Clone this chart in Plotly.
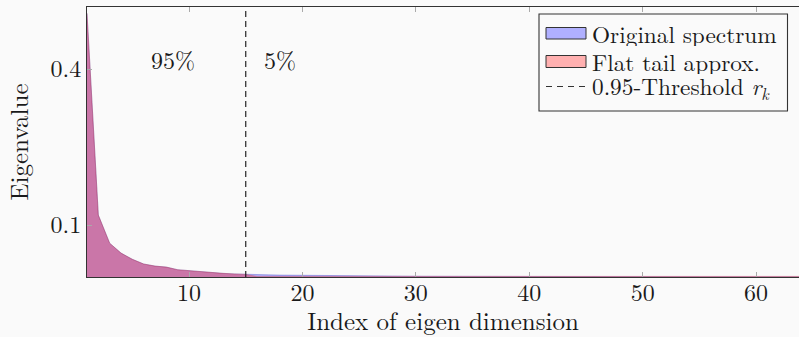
import plotly.graph_objects as go

# ---------------- data ----------------
dims = list(range(1, 65))
original_spectrum = [
    0.507, 0.119, 0.065, 0.046, 0.034, 0.025, 0.021, 0.019, 0.014, 0.012,
    0.010, 0.0085, 0.007, 0.006, 0.005,
    0.0045, 0.0041, 0.0037, 0.0034, 0.0031, 0.0028, 0.0026, 0.0024, 0.0022, 0.0020,
    0.0019, 0.0018, 0.0017, 0.0016, 0.0015, 0.0014, 0.0013, 0.0013, 0.0012, 0.0012,
    0.0011, 0.0011, 0.0010, 0.0010, 0.0009, 0.0009, 0.0009, 0.0008, 0.0008, 0.0008,
    0.0007, 0.0007, 0.0007, 0.0007, 0.0006, 0.0006, 0.0006, 0.0006, 0.0005, 0.0005,
    0.0005, 0.0005, 0.0005, 0.0004, 0.0004, 0.0004, 0.0004, 0.0004, 0.0003,
]
threshold_rk = 15
flat_tail_value = 0.0012
flat_tail = original_spectrum[:threshold_rk] + [flat_tail_value] * (len(dims) - threshold_rk)

x_ticks = [10, 20, 30, 40, 50, 60]
y_ticks = [0.1, 0.4]
y_tick_labels = ["0.1", "0.4"]
region_labels = ["95%", "5%"]
region_label_x = [8.56, 18.05]
region_label_y = 0.419
legend_labels = ["Original spectrum", "Flat tail approx.", "0.95-Threshold <i>r<sub>k</sub></i>"]

# ---------------- style ----------------
W, H = 799, 337
ML, MR, MT, MB = 87, 0, 7, 60
PW, PH = W - ML - MR, H - MT - MB
BG = "#fafafa"
FONT = "Latin Modern Roman"
TXT = "#1a1a1a"
FS = 24
FS_TITLE = 25
FS_LEG = 23.3
BLUE_FILL = "rgba(0,0,255,0.29)"
RED_FILL = "rgba(255,0,0,0.33)"

def px(xp):
    return (xp - ML) / PW

def py(yp):
    return (H - MB - yp) / PH

fig = go.Figure()
fig.add_trace(go.Scatter(x=dims, y=original_spectrum, mode="lines", fill="tozeroy",
                         fillcolor=BLUE_FILL, line=dict(width=0.6, color="rgba(60,60,200,0.6)"),
                         showlegend=False, hoverinfo="skip"))
fig.add_trace(go.Scatter(x=dims, y=flat_tail, mode="lines", fill="tozeroy",
                         fillcolor=RED_FILL, line=dict(width=0.6, color="rgba(200,60,60,0.5)"),
                         showlegend=False, hoverinfo="skip"))

shapes = []
shapes.append(dict(type="line", xref="x", yref="paper", x0=threshold_rk, x1=threshold_rk,
                   y0=0, y1=1, line=dict(color="#111111", width=1.1, dash="6px,4px"), layer="above"))
shapes.append(dict(type="rect", xref="paper", yref="paper", x0=px(539), x1=px(787.5),
                   y0=py(111), y1=py(14), line=dict(color="#333333", width=1.1),
                   fillcolor=BG, layer="above"))
shapes.append(dict(type="rect", xref="paper", yref="paper", x0=px(546), x1=px(586),
                   y0=py(39), y1=py(27.5), line=dict(color="#333333", width=1),
                   fillcolor="#b0b0ff", layer="above"))
shapes.append(dict(type="rect", xref="paper", yref="paper", x0=px(546), x1=px(586),
                   y0=py(67.5), y1=py(55.5), line=dict(color="#333333", width=1),
                   fillcolor="#ffb0b0", layer="above"))
shapes.append(dict(type="line", xref="paper", yref="paper", x0=px(546), x1=px(585),
                   y0=py(86.5), y1=py(86.5), line=dict(color="#333333", width=1.1, dash="6px,5px"),
                   layer="above"))
fig.update_layout(shapes=shapes)

annotations = []
for t, xv in zip(region_labels, region_label_x):
    annotations.append(dict(x=xv, y=region_label_y, xref="x", yref="y", text=t, showarrow=False,
                            font=dict(family=FONT, size=FS, color=TXT), xanchor="center", yanchor="middle"))
for t, yc in zip(legend_labels, [33, 61, 87]):
    annotations.append(dict(x=px(590.5), y=py(yc), xref="paper", yref="paper", text=t, showarrow=False,
                            font=dict(family=FONT, size=FS_LEG, color=TXT), xanchor="left",
                            yanchor="middle", height=26, valign="middle", borderpad=0))
fig.update_layout(annotations=annotations)

fig.update_layout(
    width=W, height=H,
    margin=dict(l=ML, r=MR, t=MT, b=MB, pad=0),
    paper_bgcolor=BG, plot_bgcolor=BG,
    font=dict(family=FONT, size=FS, color=TXT),
    showlegend=False,
    xaxis=dict(range=[1, 1 + PW / 11.34], tickvals=x_ticks, ticks="inside", ticklen=5,
               tickcolor="#aaaaaa", tickwidth=1, showline=True, linecolor="#333333", linewidth=1,
               mirror="ticks", showgrid=False, zeroline=False, ticklabelstandoff=-6,
               tickfont=dict(family=FONT, size=FS, color=TXT),
               title=dict(text="Index of eigen dimension", standoff=6,
                          font=dict(family=FONT, size=FS_TITLE, color=TXT))),
    yaxis=dict(range=[0, PH / 520], tickvals=y_ticks, ticktext=y_tick_labels, ticks="inside",
               ticklen=5, tickcolor="#aaaaaa", tickwidth=1, showline=True, linecolor="#333333",
               linewidth=1, mirror=False, showgrid=False, zeroline=False,
               tickfont=dict(family=FONT, size=FS, color=TXT),
               title=dict(text="Eigenvalue", standoff=14,
                          font=dict(family=FONT, size=FS_TITLE, color=TXT))),
)

fig.write_html("out.html")
